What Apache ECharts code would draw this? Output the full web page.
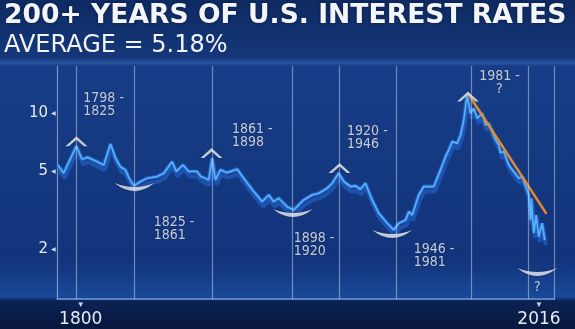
<!DOCTYPE html>
<html>
<head>
<meta charset="utf-8">
<script src="https://cdn.jsdelivr.net/npm/echarts@6/dist/echarts.min.js"></script>
<style>
  html, body { margin: 0; padding: 0; }
  body {
    width: 575px; height: 329px; overflow: hidden;
    background: linear-gradient(180deg, #0e2a62 0px, #15377a 58px, #2856a0 63px, #173d88 66px,
      #153a82 140px, #12347c 260px, #1a4998 297px, #0b2254 301px, #07183d 329px);
  }
  #chart { width: 575px; height: 329px; }
</style>
</head>
<body>
<div id="chart"></div>
<script>
// rates (year, %)
const years = [1789.3, 1792.1, 1798.0, 1800.6, 1803.2, 1807.6, 1810.7, 1813.8, 1816.1, 1818.4,
  1820.7, 1822.2, 1824.6, 1827.7, 1830.8, 1835.4, 1838.5, 1842.3, 1844.3, 1847.4,
  1850.0, 1853.9, 1855.5, 1859.3, 1860.9, 1862.4, 1864.7, 1867.8, 1872.5, 1875.5,
  1880.2, 1884.1, 1887.1, 1889.4, 1891.7, 1895.6, 1898.7, 1903.3, 1907.2, 1910.3,
  1914.2, 1916.5, 1919.5, 1921.9, 1925.0, 1927.3, 1929.6, 1931.9, 1935.0, 1938.1,
  1942.0, 1945.0, 1947.4, 1950.5, 1952.0, 1953.6, 1956.6, 1958.9, 1963.6, 1966.7,
  1969.0, 1970.5, 1972.1, 1974.4, 1976.0, 1977.5, 1979.0, 1980.6, 1982.1, 1983.7,
  1986.0, 1987.5, 1989.1, 1990.6, 1992.2, 1993.7, 1994.5, 1996.0, 1998.3, 2000.6,
  2003.0, 2004.5, 2006.8, 2007.6, 2008.4, 2008.8, 2009.9, 2011.0, 2012.2, 2013.8, 2015.0];
const rates = [5.28, 4.79, 6.61, 5.65, 5.78, 5.49, 5.28, 6.77, 5.73, 5.17,
  4.98, 4.56, 4.12, 4.34, 4.51, 4.60, 4.79, 5.49, 4.89, 5.28,
  4.89, 4.89, 4.62, 4.42, 5.72, 4.42, 4.98, 4.82, 5.02, 4.51,
  3.85, 3.42, 3.70, 3.42, 3.56, 3.22, 3.10, 3.49, 3.70, 3.78,
  4.01, 4.25, 4.79, 4.34, 4.09, 4.12, 3.96, 4.25, 3.49, 2.98,
  2.65, 2.45, 2.65, 2.75, 3.04, 2.92, 3.70, 4.09, 4.09, 4.98,
  5.82, 6.30, 6.96, 6.82, 7.53, 8.99, 12.08, 9.73, 10.3, 9.17,
  9.73, 8.48, 8.62, 7.84, 7.10, 6.69, 6.10, 6.18, 5.28, 4.88,
  4.51, 4.59, 3.93, 3.70, 2.75, 3.56, 2.36, 2.92, 2.26, 2.65, 2.17];

const dividers = [1798, 1825, 1861, 1898, 1920, 1946, 1981, 2007.4, 2019.5];
const peaks = [[1798, 7.0], [1860.6, 6.08], [1919.9, 5.1], [1979.4, 11.87]];
const troughs = [[1824.9, 4.07], [1898.3, 2.99], [1944.3, 2.33], [2011.5, 1.49]];
const trend = [[1979.4, 12.3], [2015.8, 2.96]];

const periodText = ['1798 -\n1825', '1825 -\n1861', '1861 -\n1898', '1898 -\n1920',
  '1920 -\n1946', '1946 -\n1981'];
const periodAt = [[1801.2, 10.73], [1833.8, 2.475], [1870.1, 7.44], [1898.7, 2.05],
  [1923.4, 7.27], [1954.3, 1.8]];
const openText = ['1981 -\n?', '?'];
const openAt = [[1994.0, 13.9], [2011.5, 1.246]];

const yTicks = [10, 5, 2];
const xTicks = [1800, 2016];

const chevron = 'path://M0,10L11,0L22,10L18.5,10L11,3.6L3.5,10Z';
const smile = 'path://M0,0Q20,14 40,0Q20,7 0,0Z';
const noteFont = '"DejaVu Sans Condensed", "DejaVu Sans", sans-serif';

const myChart = echarts.init(document.getElementById('chart'));

const series = [];
// period dividers
series.push({
  type: 'line', data: [], z: 1,
  markLine: {
    silent: true, symbol: ['none', 'none'], label: { show: false }, animation: false,
    lineStyle: { color: 'rgba(205,218,240,0.5)', width: 1.2, type: 'solid' },
    data: dividers.map(x => ({ xAxis: x }))
  }
});
const pts = years.map((y, i) => [y, rates[i]]);
// dark extruded ribbon under the line
series.push({
  type: 'line', data: pts, z: 2, showSymbol: false,
  lineStyle: { color: '#2360c2', width: 4, shadowColor: '#1d52ad', shadowOffsetY: 5, shadowOffsetX: 1, shadowBlur: 0 }
});
series.push({
  type: 'line', data: pts, z: 3, showSymbol: false,
  lineStyle: { color: '#58b2f8', width: 1.7 }
});
series.push({
  type: 'line', data: trend, z: 4, showSymbol: false,
  lineStyle: { color: '#e38a2e', width: 2.5 }
});
series.push({
  type: 'scatter', data: peaks, z: 5, symbol: chevron, symbolSize: [22, 10],
  itemStyle: { color: '#eef1f5', shadowColor: 'rgba(0,0,0,0.4)', shadowBlur: 2 }
});
series.push({
  type: 'scatter', data: troughs, z: 5, symbol: smile, symbolSize: [40, 8],
  itemStyle: { color: '#eef1f5', shadowColor: 'rgba(0,0,0,0.4)', shadowBlur: 2 }
});
series.push({
  type: 'scatter', z: 6, symbolSize: 0,
  data: periodAt.map((p, i) => ({ value: p, label: { formatter: periodText[i] } })),
  label: {
    show: true, position: 'right', distance: 0, align: 'left', verticalAlign: 'middle',
    color: '#f0f3f8', fontFamily: noteFont, fontSize: 14, lineHeight: 13.5,
    textShadowColor: 'rgba(0,0,0,0.5)', textShadowBlur: 2
  }
});
series.push({
  type: 'scatter', z: 6, symbolSize: 0,
  data: openAt.map((p, i) => ({ value: p, label: { formatter: openText[i] } })),
  label: {
    show: true, position: 'inside', align: 'center', verticalAlign: 'middle',
    color: '#f0f3f8', fontFamily: noteFont, fontSize: 14, lineHeight: 13,
    textShadowColor: 'rgba(0,0,0,0.5)', textShadowBlur: 2
  }
});

const option = {
  animation: false,
  title: {
    text: '200+ YEARS OF U.S. INTEREST RATES',
    subtext: 'AVERAGE = 5.18%',
    left: 2, top: 0, padding: [3, 2], itemGap: 4,
    textStyle: {
      fontFamily: 'DejaVu Sans', fontWeight: 'bold', fontSize: 26.6, color: '#f3f5f9',
      textShadowColor: 'rgba(0,0,0,0.45)', textShadowBlur: 3
    },
    subtextStyle: { fontFamily: 'DejaVu Sans', fontSize: 24, color: '#f1f4f9' }
  },
  grid: { left: 57, right: 20.5, top: 66, bottom: 30, outerBoundsMode: 'none' },
  xAxis: {
    type: 'value', min: 1789, max: 2019.5,
    axisLine: { show: true, lineStyle: { color: '#6f9ce0', width: 1.5 } },
    axisTick: { show: false }, splitLine: { show: false },
    axisLabel: {
      customValues: xTicks, margin: 2,
      formatter: v => v === xTicks[xTicks.length - 1]
        ? '{t|▼}{s|}\n{v|' + v + '}{s|}' : '{t|▼}\n{v|' + v + '}',
      rich: {
        t: { fontSize: 8, lineHeight: 8, color: '#cfd8e6' },
        v: { fontFamily: 'DejaVu Sans', fontSize: 17, lineHeight: 22, color: '#e6ebf2' },
        s: { width: 16, fontSize: 8, lineHeight: 8 }
      }
    }
  },
  yAxis: {
    type: 'log', min: 1.081, max: 17.03,
    axisLine: { show: true, lineStyle: { color: 'rgba(195,210,238,0.6)', width: 1.2 } },
    axisTick: { show: false }, splitLine: { show: false }, minorTick: { show: false },
    axisLabel: {
      customValues: yTicks, margin: 1,
      formatter: v => '{v|' + v + '}{t|◀}',
      rich: {
        v: { fontFamily: 'DejaVu Sans', fontSize: 15, color: '#e6ebf2', padding: [4, 3, 0, 0] },
        t: { fontSize: 6, color: '#cfd8e6', padding: [4, 0, 0, 0] }
      }
    }
  },
  series: series
};

myChart.setOption(option);
</script>
</body>
</html>
